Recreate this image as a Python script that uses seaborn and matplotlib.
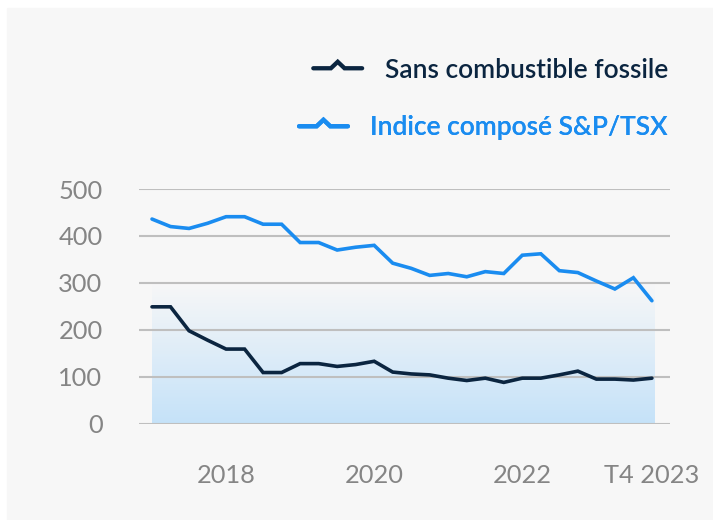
import numpy as np
import pandas as pd
import matplotlib.pyplot as plt
import seaborn as sns
from matplotlib.colors import LinearSegmentedColormap
from matplotlib.legend_handler import HandlerBase
from matplotlib.lines import Line2D
from matplotlib.patches import Rectangle

# quarterly values, T1 2017 .. T4 2023
quarters = [f"T{q} {y}" for y in range(2017, 2024) for q in range(1, 5)]
fossil_free = [249, 249, 198, 178, 159, 159, 109, 109, 128, 128, 122, 126, 133, 110,
               106, 104, 97, 92, 97, 88, 97, 97, 104, 112, 95, 95, 93, 97]
tsx = [436, 420, 416, 427, 441, 441, 425, 425, 386, 386, 370, 376, 380, 342,
       331, 316, 320, 313, 324, 320, 359, 362, 326, 322, 304, 287, 311, 262]
series_names = ["Sans combustible fossile", "Indice composé S&P/TSX"]
tick_quarters = ["T1 2018", "T1 2020", "T1 2022", "T4 2023"]
tick_labels = ["2018", "2020", "2022", "T4 2023"]
y_ticks = [0, 100, 200, 300, 400, 500]

colors = {series_names[0]: "#0b2540", series_names[1]: "#1a8cf0"}
n = len(quarters)

df = pd.DataFrame({
    "idx": list(range(n)) * 2,
    "valeur": fossil_free + tsx,
    "serie": [series_names[0]] * n + [series_names[1]] * n,
})

sns.set_theme(style="white")
plt.rcParams["font.family"] = ["Lato", "DejaVu Sans"]

fig = plt.figure(figsize=(7.13, 5.2), dpi=100, facecolor="white")
fig.patches.append(Rectangle((7 / 713, 0), 1, 1 - 8 / 520, transform=fig.transFigure,
                             color="#f7f7f7", zorder=-10))
ax = fig.add_axes([0.1945, 0.1852, 0.745, 0.4513])
ax.set_zorder(1)
ax.set_facecolor("none")

# soft gradient under the lines
cmap = LinearSegmentedColormap.from_list("fade", ["#c5e2f9", "#f7f7f7"])
grad = np.linspace(0, 1, 256).reshape(-1, 1)
ax.imshow(grad, extent=(0, n - 1 + 0.15, 0, 300), origin="lower", cmap=cmap,
          aspect="auto", zorder=0)

sns.lineplot(data=df, x="idx", y="valeur", hue="serie", palette=colors,
             linewidth=2.6, legend=False, ax=ax)
for ln in ax.lines:
    ln.set_clip_on(False)
    ln.set_solid_joinstyle("miter")

ax.set_xlim(-0.72, 27.97)
ax.set_ylim(0, 500)
ax.set_yticks(y_ticks)
ax.set_xticks([quarters.index(q) for q in tick_quarters])
ax.set_xticklabels(tick_labels)
ax.set_xlabel("")
ax.set_ylabel("")
ax.grid(axis="y", color="#bfbfbf", linewidth=1.5)
ax.grid(axis="x", visible=False)
sns.despine(ax=ax, left=True, bottom=True)
ax.tick_params(axis="both", length=0, labelsize=18.3, labelcolor="#858585")
ax.tick_params(axis="y", pad=26)
ax.tick_params(axis="x", pad=29)


class CaretHandler(HandlerBase):
    def create_artists(self, legend, orig_handle, xdescent, ydescent, width, height,
                       fontsize, trans):
        xs = np.array([0, 0.36, 0.5, 0.64, 1.0]) * width - xdescent
        ys = np.array([0.5, 0.5, 0.85, 0.5, 0.5]) * height - ydescent
        line = Line2D(xs, ys, color=orig_handle.get_color(),
                      linewidth=orig_handle.get_linewidth(), solid_joinstyle="miter")
        line.set_transform(trans)
        return [line]


# one legend per row so both labels end on the same right edge
legend_rows = [70, 128]
for s, row_y in zip(series_names, legend_rows):
    handle = Line2D([], [], color=colors[s], linewidth=3.1)
    leg = ax.legend([handle], [s], handler_map={Line2D: CaretHandler()},
                    loc="center right", bbox_to_anchor=(681 / 713, 1 - row_y / 520),
                    bbox_transform=fig.transFigure, frameon=False, borderpad=0,
                    handlelength=1.85, handletextpad=0.85,
                    prop={"family": "Lato", "weight": 600, "size": 19})
    leg.get_texts()[0].set_color(colors[s])
    ax.add_artist(leg)

fig.savefig("out.png", dpi=100, facecolor=fig.get_facecolor())
